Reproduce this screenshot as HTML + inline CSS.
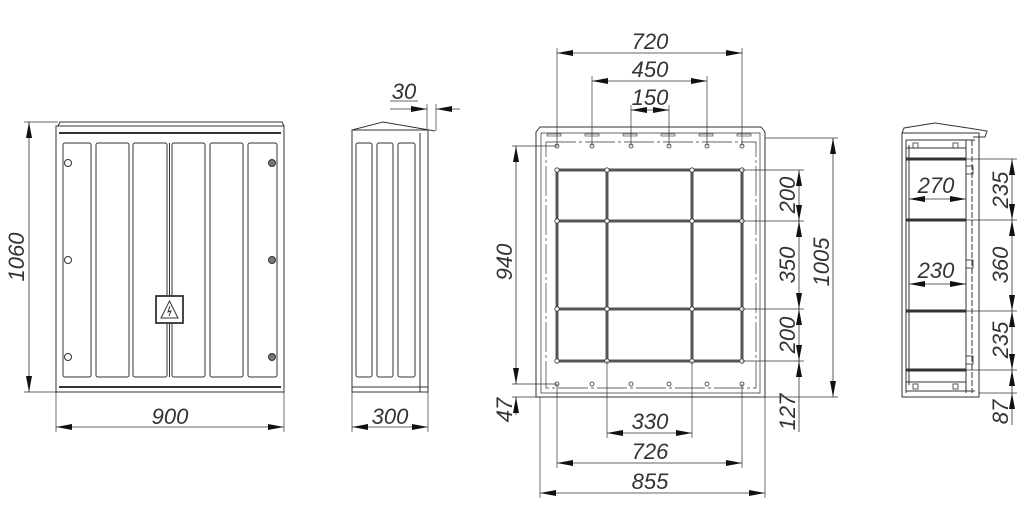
<!DOCTYPE html>
<html><head><meta charset="utf-8"><style>
html,body{margin:0;padding:0;background:#fff}
svg{display:block}
text{font-family:"Liberation Sans",sans-serif;font-style:italic;font-size:22px;fill:#333}
</style></head><body>
<svg width="1027" height="509" viewBox="0 0 1027 509" xmlns="http://www.w3.org/2000/svg">
<defs>
<marker id="a" viewBox="0 0 16 6" refX="16" refY="3" markerWidth="16" markerHeight="6" markerUnits="userSpaceOnUse" orient="auto-start-reverse"><path d="M0,0 L16,3 L0,6 z" fill="#111"/></marker>
</defs>
<g fill="none" stroke="#333" stroke-width="1">
<!-- FRONT VIEW -->
<path d="M58,126 L60,122 L282,122 L284,126"/>
<rect x="56" y="126" width="228" height="266"/>
<line x1="59" y1="133" x2="281" y2="133" stroke-width="2"/>
<line x1="59" y1="387" x2="281" y2="387" stroke-width="2"/>
<rect x="63" y="143" width="28" height="234" rx="2"/>
<rect x="96" y="143" width="33" height="234" rx="2"/>
<rect x="133" y="143" width="34" height="234" rx="2"/>
<rect x="172" y="143" width="33" height="234" rx="2"/>
<rect x="210" y="143" width="33" height="234" rx="2"/>
<rect x="248" y="143" width="29" height="234" rx="2"/>
<line x1="169.5" y1="143" x2="169.5" y2="377"/>
<circle cx="68" cy="163" r="3.5"/><circle cx="68" cy="260" r="3.5"/><circle cx="68" cy="357" r="3.5"/>
<circle cx="272" cy="163" r="3.5" fill="#777"/><circle cx="272" cy="260" r="3.5" fill="#777"/><circle cx="272" cy="357" r="3.5" fill="#777"/>
<rect x="156" y="296" width="27" height="27" fill="#fff" stroke-width="1.8"/>
<path d="M169.5,301 L178,318 L161,318 z"/>
<path d="M170,306 L168,312 L171,311 L169,316"/>
<line x1="24" y1="122" x2="58" y2="122" stroke-width="0.7"/>
<line x1="24" y1="392" x2="56" y2="392" stroke-width="0.7"/>
<line x1="29" y1="122" x2="29" y2="392" marker-start="url(#a)" marker-end="url(#a)" stroke-width="0.8"/>
<line x1="56" y1="392" x2="56" y2="432" stroke-width="0.7"/>
<line x1="284" y1="392" x2="284" y2="432" stroke-width="0.7"/>
<line x1="56" y1="427" x2="284" y2="427" marker-start="url(#a)" marker-end="url(#a)" stroke-width="0.8"/>

<!-- SIDE VIEW -->
<path d="M352,130 L383,122 L435,131"/>
<line x1="352" y1="130" x2="427" y2="130"/>
<rect x="352" y="130" width="76" height="262"/>
<line x1="420" y1="133" x2="420" y2="392"/>
<line x1="352" y1="387" x2="428" y2="387"/>
<rect x="356" y="143" width="16" height="234" rx="2"/>
<rect x="377" y="143" width="16" height="234" rx="2"/>
<rect x="398" y="143" width="17" height="234" rx="2"/>
<line x1="352" y1="392" x2="352" y2="432" stroke-width="0.7"/>
<line x1="428" y1="392" x2="428" y2="432" stroke-width="0.7"/>
<line x1="352" y1="427" x2="428" y2="427" marker-start="url(#a)" marker-end="url(#a)" stroke-width="0.8"/>
<line x1="427" y1="104" x2="427" y2="130" stroke-width="0.7"/>
<line x1="436" y1="104" x2="436" y2="131" stroke-width="0.7"/>
<line x1="390" y1="101" x2="418" y2="101" stroke-width="0.7"/>
<line x1="390" y1="109" x2="427" y2="109" marker-end="url(#a)" stroke-width="0.8"/>
<line x1="460" y1="109" x2="436" y2="109" marker-end="url(#a)" stroke-width="0.8"/>

<!-- MIDDLE VIEW -->
<path d="M536,132 L540,127 L761,127 L765,132 L765,397 L536,397 Z"/>
<path d="M541,133 L760,133 L760,393 L541,393 Z" stroke-width="0.7"/>
<path d="M546,142 L756,142 L756,388 L546,388 Z" stroke-width="0.7" stroke-dasharray="30 3 3 3"/>
<g stroke-width="0.6">
<rect x="547" y="134" width="14" height="2"/><rect x="585" y="134" width="14" height="2"/><rect x="623" y="134" width="14" height="2"/><rect x="661" y="134" width="14" height="2"/><rect x="699" y="134" width="14" height="2"/><rect x="737" y="134" width="14" height="2"/>
</g>
<g fill="#fff" stroke-width="0.8">
<circle cx="557" cy="146" r="2"/><circle cx="592" cy="146" r="2"/><circle cx="631" cy="146" r="2"/><circle cx="669" cy="146" r="2"/><circle cx="707" cy="146" r="2"/><circle cx="742" cy="146" r="2"/>
<circle cx="557" cy="384" r="2"/><circle cx="592" cy="384" r="2"/><circle cx="631" cy="384" r="2"/><circle cx="669" cy="384" r="2"/><circle cx="707" cy="384" r="2"/><circle cx="742" cy="384" r="2"/>
</g>
<g stroke="#555" stroke-width="3">
<rect x="557" y="170" width="185" height="191"/>
<line x1="607" y1="170" x2="607" y2="361"/><line x1="692" y1="170" x2="692" y2="361"/>
<line x1="557" y1="221" x2="742" y2="221"/><line x1="557" y1="309" x2="742" y2="309"/>
</g>
<g fill="#fff" stroke="#333" stroke-width="0.8">
<circle cx="557" cy="170" r="2.2"/><circle cx="607" cy="170" r="2.2"/><circle cx="692" cy="170" r="2.2"/><circle cx="742" cy="170" r="2.2"/>
<circle cx="557" cy="221" r="2.2"/><circle cx="607" cy="221" r="2.2"/><circle cx="692" cy="221" r="2.2"/><circle cx="742" cy="221" r="2.2"/>
<circle cx="557" cy="309" r="2.2"/><circle cx="607" cy="309" r="2.2"/><circle cx="692" cy="309" r="2.2"/><circle cx="742" cy="309" r="2.2"/>
<circle cx="557" cy="361" r="2.2"/><circle cx="607" cy="361" r="2.2"/><circle cx="692" cy="361" r="2.2"/><circle cx="742" cy="361" r="2.2"/>
</g>
<g stroke-width="0.7">
<line x1="557" y1="48" x2="557" y2="146"/><line x1="742" y1="48" x2="742" y2="146"/>
<line x1="592" y1="76" x2="592" y2="146"/><line x1="707" y1="76" x2="707" y2="146"/>
<line x1="631" y1="105" x2="631" y2="146"/><line x1="669" y1="105" x2="669" y2="146"/>
<line x1="512" y1="146" x2="557" y2="146"/><line x1="512" y1="384" x2="557" y2="384"/><line x1="512" y1="397" x2="536" y2="397"/>
<line x1="742" y1="170" x2="804" y2="170"/><line x1="742" y1="221" x2="804" y2="221"/><line x1="742" y1="309" x2="804" y2="309"/><line x1="742" y1="361" x2="804" y2="361"/>
<line x1="765" y1="397" x2="838" y2="397"/><line x1="765" y1="138" x2="838" y2="138"/>
<line x1="607" y1="361" x2="607" y2="438"/><line x1="692" y1="361" x2="692" y2="438"/>
<line x1="557" y1="384" x2="557" y2="468"/><line x1="742" y1="384" x2="742" y2="468"/>
<line x1="540" y1="397" x2="540" y2="498"/><line x1="765" y1="397" x2="765" y2="498"/>
</g>
<g stroke-width="0.8">
<line x1="557" y1="53" x2="742" y2="53" marker-start="url(#a)" marker-end="url(#a)"/>
<line x1="592" y1="81" x2="707" y2="81" marker-start="url(#a)" marker-end="url(#a)"/>
<line x1="631" y1="110" x2="669" y2="110"/>
<line x1="646" y1="110" x2="631" y2="110" marker-end="url(#a)"/><line x1="654" y1="110" x2="669" y2="110" marker-end="url(#a)"/>
<line x1="516" y1="146" x2="516" y2="384" marker-start="url(#a)" marker-end="url(#a)"/>
<line x1="516" y1="415" x2="516" y2="397" marker-end="url(#a)"/>
<line x1="799" y1="170" x2="799" y2="221" marker-start="url(#a)" marker-end="url(#a)"/>
<line x1="799" y1="221" x2="799" y2="309" marker-start="url(#a)" marker-end="url(#a)"/>
<line x1="799" y1="309" x2="799" y2="361" marker-start="url(#a)" marker-end="url(#a)"/>
<line x1="799" y1="361" x2="799" y2="397" marker-start="url(#a)"/>
<line x1="799" y1="397" x2="799" y2="432"/>
<line x1="833" y1="138" x2="833" y2="397" marker-start="url(#a)" marker-end="url(#a)"/>
<line x1="607" y1="433" x2="692" y2="433" marker-start="url(#a)" marker-end="url(#a)"/>
<line x1="557" y1="463" x2="742" y2="463" marker-start="url(#a)" marker-end="url(#a)"/>
<line x1="540" y1="493" x2="765" y2="493" marker-start="url(#a)" marker-end="url(#a)"/>
</g>

<!-- RIGHT SECTION VIEW -->
<path d="M902,133 L904,128 L935,123 L968,128 L987,131 L985,137 L973,137"/>
<rect x="902" y="133" width="77" height="264"/>
<line x1="906" y1="140" x2="906" y2="393"/><line x1="909" y1="145" x2="909" y2="385"/>
<line x1="966" y1="140" x2="966" y2="393"/><line x1="972" y1="140" x2="972" y2="393" stroke-dasharray="6 2"/>
<line x1="906" y1="140" x2="975" y2="140"/><line x1="906" y1="391" x2="975" y2="391"/>
<line x1="906" y1="148" x2="966" y2="148"/><line x1="906" y1="382" x2="966" y2="382"/>
<g stroke="#333" stroke-width="3">
<line x1="906" y1="159" x2="966" y2="159"/><line x1="906" y1="220" x2="966" y2="220"/>
<line x1="906" y1="311" x2="966" y2="311"/><line x1="906" y1="370" x2="966" y2="370"/>
</g>
<g stroke-width="0.8">
<rect x="913" y="143" width="5" height="5"/><rect x="953" y="143" width="5" height="5"/>
<rect x="913" y="384" width="5" height="5"/><rect x="953" y="384" width="5" height="5"/>
<rect x="966" y="166" width="7" height="8"/><rect x="966" y="260" width="7" height="8"/><rect x="966" y="356" width="7" height="8"/>
</g>
<g stroke-width="0.7">
<line x1="966" y1="159" x2="1017" y2="159"/><line x1="966" y1="220" x2="1017" y2="220"/>
<line x1="966" y1="311" x2="1017" y2="311"/><line x1="966" y1="370" x2="1017" y2="370"/>
<line x1="979" y1="393" x2="1017" y2="393"/>
</g>
<g stroke-width="0.8">
<line x1="1012" y1="159" x2="1012" y2="220" marker-start="url(#a)" marker-end="url(#a)"/>
<line x1="1012" y1="220" x2="1012" y2="311" marker-start="url(#a)" marker-end="url(#a)"/>
<line x1="1012" y1="311" x2="1012" y2="370" marker-start="url(#a)" marker-end="url(#a)"/>
<line x1="1012" y1="370" x2="1012" y2="393" marker-start="url(#a)"/>
<line x1="1012" y1="425" x2="1012" y2="393" marker-end="url(#a)"/>
<line x1="909" y1="199" x2="966" y2="199" marker-start="url(#a)" marker-end="url(#a)"/>
<line x1="909" y1="284" x2="966" y2="284" marker-start="url(#a)" marker-end="url(#a)"/>
</g>
</g>

<text x="170" y="424" text-anchor="middle">900</text>
<text x="390" y="424" text-anchor="middle">300</text>
<text x="404" y="99" text-anchor="middle">30</text>
<text transform="translate(24,257) rotate(-90)" text-anchor="middle">1060</text>
<text x="650" y="49" text-anchor="middle">720</text>
<text x="650" y="77" text-anchor="middle">450</text>
<text x="650" y="105" text-anchor="middle">150</text>
<text x="650" y="429" text-anchor="middle">330</text>
<text x="650" y="459" text-anchor="middle">726</text>
<text x="650" y="489" text-anchor="middle">855</text>
<text transform="translate(512,262) rotate(-90)" text-anchor="middle">940</text>
<text transform="translate(512,410) rotate(-90)" text-anchor="middle">47</text>
<text transform="translate(795,195) rotate(-90)" text-anchor="middle">200</text>
<text transform="translate(795,265) rotate(-90)" text-anchor="middle">350</text>
<text transform="translate(795,335) rotate(-90)" text-anchor="middle">200</text>
<text transform="translate(795,412) rotate(-90)" text-anchor="middle">127</text>
<text transform="translate(829,262) rotate(-90)" text-anchor="middle">1005</text>
<text x="936" y="193" text-anchor="middle">270</text>
<text x="936" y="278" text-anchor="middle">230</text>
<text transform="translate(1008,190) rotate(-90)" text-anchor="middle">235</text>
<text transform="translate(1008,265) rotate(-90)" text-anchor="middle">360</text>
<text transform="translate(1008,340) rotate(-90)" text-anchor="middle">235</text>
<text transform="translate(1008,412) rotate(-90)" text-anchor="middle">87</text>
</svg>
</body></html>
